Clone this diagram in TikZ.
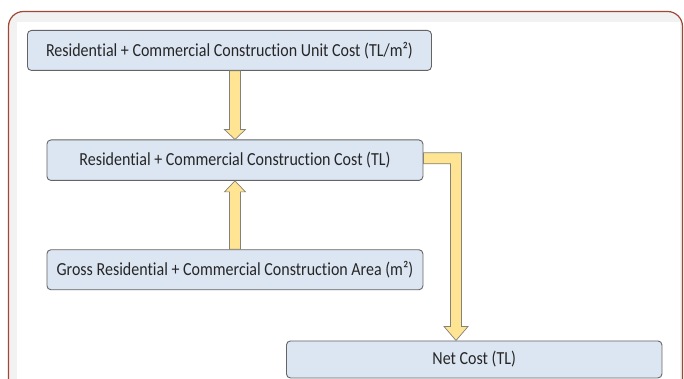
\documentclass[tikz,border=0pt]{standalone}
\usepackage{fontspec}
\setmainfont{Carlito}[FakeStretch=0.87,Ligatures={NoCommon}]
\usetikzlibrary{calc}
\definecolor{framebrown}{RGB}{160,72,52}
\definecolor{framegrey}{RGB}{242,242,242}
\definecolor{boxfill}{RGB}{220,230,242}
\definecolor{boxline}{RGB}{100,100,100}
\definecolor{arrowfill}{RGB}{255,228,148}
\definecolor{arrowline}{RGB}{130,130,120}
\definecolor{txt}{RGB}{38,38,38}
\tikzset{
  flowbox/.style={draw=boxline, line width=0.9pt, fill=boxfill, rounded corners=4pt,
    anchor=north west, inner sep=0pt, text=txt,
    font=\fontsize{18.4}{21}\selectfont},
  fatarrow/.style={draw=arrowline, line width=0.7pt, fill=arrowfill, line join=miter}
}
\begin{document}
\begin{tikzpicture}[x=1pt,y=-1pt]
\useasboundingbox (0,0) rectangle (684,379);
\begin{scope}
\clip (0,0) rectangle (684,379);
\fill[white] (0,0) rectangle (684,379);
\draw[framebrown, line width=1.2pt, fill=framegrey, rounded corners=15pt] (8.5,11.5) rectangle (682.5,420);
\fill[white] (17,22) rectangle (679.5,420);
\end{scope}

\node[flowbox, minimum width=404pt, minimum height=40pt] (b1) at (27,30) {Residential + Commercial Construction Unit Cost (TL/m²)};
\node[flowbox, minimum width=376pt, minimum height=40.5pt] (b2) at (46.5,139.5) {Residential + Commercial Construction Cost (TL)};
\node[flowbox, minimum width=376pt, minimum height=40pt] (b3) at (46.5,249.3) {Gross Residential + Commercial Construction Area (m²)};
\node[flowbox, minimum width=375.5pt, minimum height=37pt] (b4) at (286,340.5) {Net Cost (TL)};

% arrow b1 -> b2
\path let \p1=(b2.north), \p2=(b1.south) in
  node[coordinate] (a1) at (\x1,\y2) {};
\draw[fatarrow] ($(a1)+(-5.5,0)$) -- ($(b2.north)+(-5.5,-10)$) -- ($(b2.north)+(-10.5,-10)$)
  -- (b2.north) -- ($(b2.north)+(10.5,-10)$) -- ($(b2.north)+(5.5,-10)$) -- ($(a1)+(5.5,0)$) -- cycle;

% arrow b3 -> b2
\draw[fatarrow] ($(b3.north)+(-5.5,0)$) -- ($(b2.south)+(-5.5,11)$) -- ($(b2.south)+(-10.5,11)$)
  -- (b2.south) -- ($(b2.south)+(10.5,11)$) -- ($(b2.south)+(5.5,11)$) -- ($(b3.north)+(5.5,0)$) -- cycle;

% elbow arrow b2 -> b4
\coordinate (tip) at ($(b4.north west)+(170,0)$);
\coordinate (e1) at ($(b2.north east)+(0,13.3)$);
\draw[fatarrow] let \p1=(e1), \p2=(tip) in
  (\x1,\y1) -- (\x2+5.5,\y1) -- (\x2+5.5,\y2+14) -- (\x2+12,\y2+14) -- (tip)
  -- (\x2-12,\y2+14) -- (\x2-5.5,\y2+14) -- (\x2-5.5,\y1-11) -- (\x1,\y1-11) -- cycle;
\end{tikzpicture}
\end{document}
